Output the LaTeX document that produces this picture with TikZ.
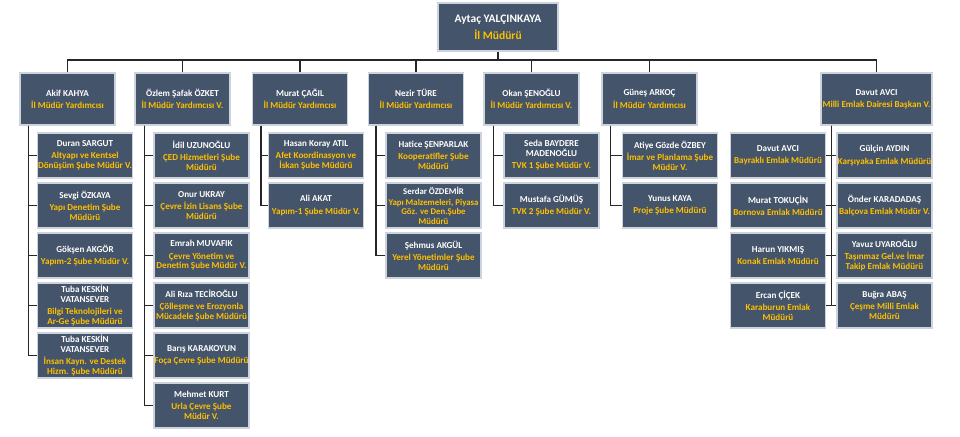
\documentclass[tikz,border=0pt]{standalone}
\usepackage{fontspec}
\setmainfont{Carlito}
\definecolor{boxfill}{HTML}{44546A}
\definecolor{gold}{HTML}{FFC000}
\definecolor{boxedge}{HTML}{CDD3DC}
\definecolor{linec}{HTML}{262626}
\newcommand{\gtl}[1]{\textcolor{gold}{#1}}
\tikzset{
  orgbox/.style={draw=boxedge, line width=1.2pt, fill=boxfill, inner sep=0.5pt, align=center,
    text=white, font=\bfseries\fontsize{9.1}{9.8}\selectfont},
  topbox/.style={orgbox, minimum width=120pt, minimum height=48pt, font=\bfseries\fontsize{11.5}{13}\selectfont},
  vbox/.style={orgbox, minimum width=95pt, minimum height=52pt},
  wbox/.style={orgbox, minimum width=111pt, minimum height=52pt},
  cbox/.style={orgbox, minimum width=95pt, minimum height=45pt},
  conn/.style={draw=linec, line width=1.4pt}
}
\begin{document}
\begin{tikzpicture}[x=1pt,y=-1pt]
\useasboundingbox (0,0) rectangle (960,436);
% top
\node[topbox] (top) at (498,27) {Aytaç YALÇINKAYA\\[4pt]\gtl{İl Müdürü}};
% level 2
\node[vbox] (p1) at (67.5,99) {Akif KAHYA\\[2.5pt]\gtl{İl Müdür Yardımcısı}};
\node[vbox] (p2) at (182.5,99) {Özlem Şafak ÖZKET\\[2.5pt]\gtl{İl Müdür Yardımcısı V.}};
\node[vbox] (p3) at (300,99) {Murat ÇAĞIL\\[2.5pt]\gtl{İl Müdür Yardımcısı}};
\node[vbox] (p4) at (416,99) {Nezir TÜRE\\[2.5pt]\gtl{İl Müdür Yardımcısı}};
\node[vbox] (p5) at (531.5,99) {Okan ŞENOĞLU\\[2.5pt]\gtl{İl Müdür Yardımcısı V.}};
\node[vbox] (p6) at (649.5,99) {Güneş ARKOÇ\\[2.5pt]\gtl{İl Müdür Yardımcısı}};
\node[wbox] (p7) at (876.5,99) {Davut AVCI\\[2.5pt]\gtl{Milli Emlak Dairesi Başkan V.}};
% column 1
\node[cbox] (a1) at (85,155.5) {Duran SARGUT\\[2.5pt]\gtl{Altyapı ve Kentsel}\\\gtl{Dönüşüm Şube Müdür V.}};
\node[cbox] (a2) at (85,205.5) {Sevgi ÖZKAYA\\[2.5pt]\gtl{Yapı Denetim Şube}\\\gtl{Müdürü}};
\node[cbox] (a3) at (85,255.5) {Gökşen AKGÖR\\[2.5pt]\gtl{Yapım-2 Şube Müdür V.}};
\node[cbox] (a4) at (85,305.5) {Tuba KESKİN\\VATANSEVER\\[2pt]\gtl{Bilgi Teknolojileri ve}\\\gtl{Ar-Ge Şube Müdürü}};
\node[cbox] (a5) at (85,355.5) {Tuba KESKİN\\VATANSEVER\\[2pt]\gtl{İnsan Kayn. ve Destek}\\\gtl{Hizm. Şube Müdürü}};
% column 2
\node[cbox] (b1) at (201.5,155.5) {İdil UZUNOĞLU\\[2.5pt]\gtl{ÇED Hizmetleri Şube}\\\gtl{Müdürü}};
\node[cbox] (b2) at (201.5,205.5) {Onur UKRAY\\[2.5pt]\gtl{Çevre İzin Lisans Şube}\\\gtl{Müdürü}};
\node[cbox] (b3) at (201.5,255.5) {Emrah MUVAFIK\\[2.5pt]\gtl{Çevre Yönetim ve}\\\gtl{Denetim Şube Müdür V.}};
\node[cbox] (b4) at (201.5,305.5) {Ali Rıza TECİROĞLU\\[2.5pt]\gtl{Çölleşme ve Erozyonla}\\\gtl{Mücadele Şube Müdürü}};
\node[cbox] (b5) at (201.5,355.5) {Barış KARAKOYUN\\[2.5pt]\gtl{Foça Çevre Şube Müdürü}};
\node[cbox] (b6) at (201.5,405.5) {Mehmet KURT\\[2.5pt]\gtl{Urla Çevre Şube}\\\gtl{Müdür V.}};
% column 3
\node[cbox] (c1) at (316,155.5) {Hasan Koray ATIL\\[2.5pt]\gtl{Afet Koordinasyon ve}\\\gtl{İskan Şube Müdürü}};
\node[cbox] (c2) at (316,205.5) {Ali AKAT\\[2.5pt]\gtl{Yapım-1 Şube Müdür V.}};
% column 4
\node[cbox] (d1) at (433.5,155.5) {Hatice ŞENPARLAK\\[2.5pt]\gtl{Kooperatifler Şube}\\\gtl{Müdürü}};
\node[cbox, font=\bfseries\fontsize{8.8}{9.4}\selectfont] (d2) at (433.5,205.5) {Serdar ÖZDEMİR\\[2pt]\gtl{Yapı Malzemeleri, Piyasa}\\\gtl{Göz. ve Den.Şube}\\\gtl{Müdürü}};
\node[cbox] (d3) at (433.5,255.5) {Şehmus AKGÜL\\[2.5pt]\gtl{Yerel Yönetimler Şube}\\\gtl{Müdürü}};
% column 5
\node[cbox] (e1) at (551.5,155.5) {Seda BAYDERE\\MADENOĞLU\\[2.5pt]\gtl{TVK 1 Şube Müdür V.}};
\node[cbox] (e2) at (551.5,205.5) {Mustafa GÜMÜŞ\\[2.5pt]\gtl{TVK 2 Şube Müdür V.}};
% column 6
\node[cbox] (f1) at (670,155.5) {Atiye Gözde ÖZBEY\\[2.5pt]\gtl{İmar ve Planlama Şube}\\\gtl{Müdür V.}};
\node[cbox] (f2) at (670,205.5) {Yunus KAYA\\[2.5pt]\gtl{Proje Şube Müdürü}};
% column 7
\node[cbox] (g1) at (778,155.5) {Davut AVCI\\[2.5pt]\gtl{Bayraklı Emlak Müdürü}};
\node[cbox] (g2) at (778,205.5) {Murat TOKUÇİN\\[2.5pt]\gtl{Bornova Emlak Müdürü}};
\node[cbox] (g3) at (778,255.5) {Harun YIKMIŞ\\[2.5pt]\gtl{Konak Emlak Müdürü}};
\node[cbox] (g4) at (778,305.5) {Ercan ÇİÇEK\\[2.5pt]\gtl{Karaburun Emlak}\\\gtl{Müdürü}};
\node[cbox] (h1) at (884.5,155.5) {Gülçin AYDIN\\[2.5pt]\gtl{Karşıyaka Emlak Müdürü}};
\node[cbox] (h2) at (884.5,205.5) {Önder KARADADAŞ\\[2.5pt]\gtl{Balçova Emlak Müdür V.}};
\node[cbox] (h3) at (884.5,255.5) {Yavuz UYAROĞLU\\[2.5pt]\gtl{Taşınmaz Gel.ve İmar}\\\gtl{Takip Emlak Müdürü}};
\node[cbox] (h4) at (884.5,305.5) {Buğra ABAŞ\\[2.5pt]\gtl{Çeşme Milli Emlak}\\\gtl{Müdürü}};
% top bus
\coordinate (bj) at (498,60);
\draw[conn] (top.south) -- (bj);
\foreach \p in {p1,p2,p3,p4,p5,p6,p7} \draw[conn] (\p.north) |- (bj);
% children connectors
\foreach \c in {a1,a2,a3,a4,a5} \draw[conn] ([xshift=9pt]p1.south west) |- (\c.west);
\foreach \c in {b1,b2,b3,b4,b5,b6} \draw[conn] ([xshift=10pt]p2.south west) |- (\c.west);
\foreach \c in {c1,c2} \draw[conn] ([xshift=9pt]p3.south west) |- (\c.west);
\foreach \c in {d1,d2,d3} \draw[conn] ([xshift=8pt]p4.south west) |- (\c.west);
\foreach \c in {e1,e2} \draw[conn] ([xshift=10pt]p5.south west) |- (\c.west);
\foreach \c in {f1,f2} \draw[conn] ([xshift=9pt]p6.south west) |- (\c.west);
\foreach \c in {g1,g2,g3,g4} \draw[conn] ([xshift=11pt]p7.south west) |- (\c.east);
\foreach \c in {h1,h2,h3,h4} \draw[conn] ([xshift=11pt]p7.south west) |- (\c.west);
\end{tikzpicture}
\end{document}
